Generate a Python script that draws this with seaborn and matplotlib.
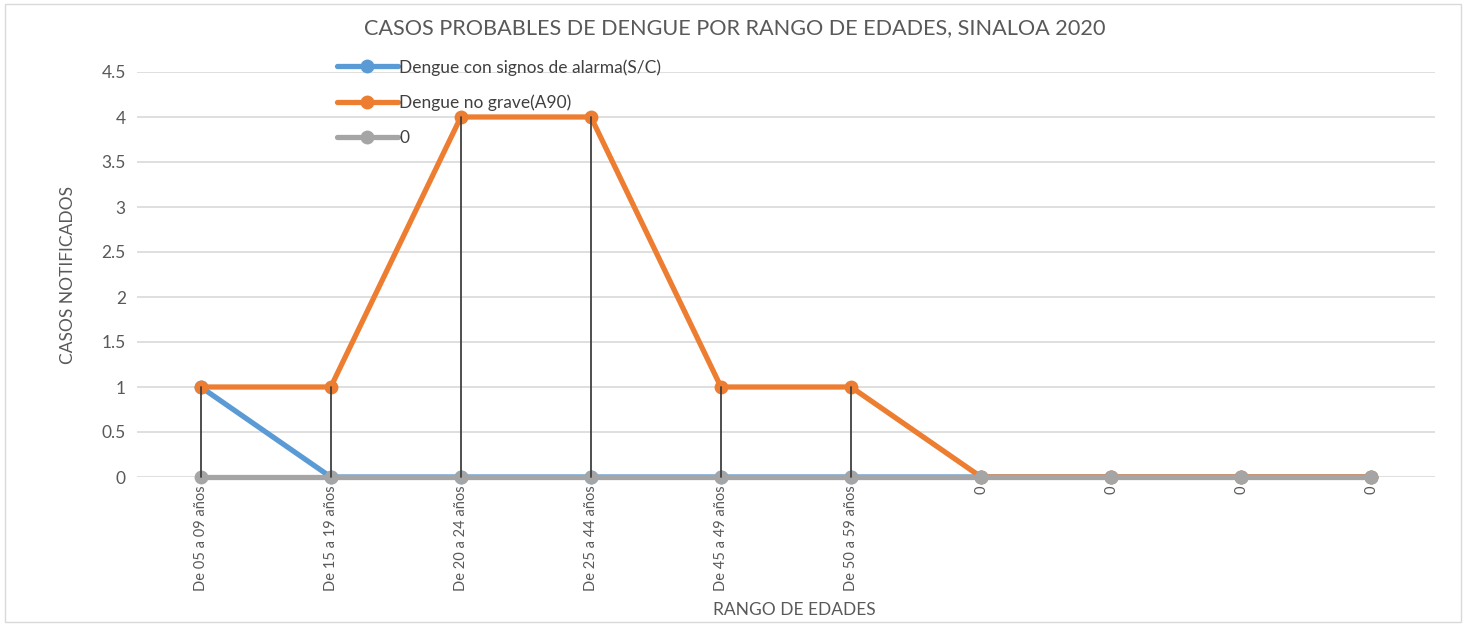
import matplotlib
matplotlib.use("Agg")
import matplotlib.pyplot as plt
import seaborn as sns
import pandas as pd
import numpy as np

categories = ["De 05 a 09 años", "De 15 a 19 años", "De 20 a 24 años", "De 25 a 44 años",
              "De 45 a 49 años", "De 50 a 59 años", "0", "0", "0", "0"]
series_names = ["Dengue con signos de alarma(S/C)", "Dengue no grave(A90)", "0"]
alarma = [1, 0, 0, 0, 0, 0, 0, 0, 0, 0]
no_grave = [1, 1, 4, 4, 1, 1, 0, 0, 0, 0]
cero = [0, 0, 0, 0, 0, 0, 0, 0, 0, 0]
colors = ["#5B9BD5", "#ED7D31", "#A5A5A5"]

sns.set_style("white")
plt.rcParams['font.family'] = ['Lato', 'DejaVu Sans']

pos = np.arange(len(categories))
rows = []
for name, vals in zip(series_names, [alarma, no_grave, cero]):
    for p, v in zip(pos, vals):
        rows.append({"pos": p, "value": v, "serie": name})
df = pd.DataFrame(rows)

fig = plt.figure(figsize=(14.68, 6.26), dpi=100)
ax = fig.add_axes([137/1468, 1-477/626, (1435-137)/1468, (477-72)/626])

for i, (name, col) in enumerate(zip(series_names, colors)):
    sub = df[df["serie"] == name]
    sns.lineplot(data=sub, x="pos", y="value", ax=ax, color=col, linewidth=3.8,
                 marker="o", markersize=10, markeredgewidth=0, label=name,
                 zorder=3 + i, clip_on=False)

# drop lines
maxv = np.max(np.vstack([alarma, no_grave, cero]), axis=0)
for p, m in zip(pos, maxv):
    if m > 0:
        ax.plot([p, p], [0, m], color="#404040", linewidth=1.3, zorder=10, clip_on=False)

ax.set_xlim(-0.49, 9.49)
ax.set_ylim(0, 4.5)
ax.set_yticks(np.arange(0, 4.51, 0.5))
ax.set_yticklabels([f"{v:g}" for v in np.arange(0, 4.51, 0.5)], fontsize=12.5, color="#595959")
ax.set_xticks(pos)
ax.set_xticklabels(categories, rotation=90, fontsize=10.5, color="#595959", va="top", ha="center")
ax.tick_params(axis="both", length=0, pad=8)
ax.tick_params(axis="x", pad=6)
ax.grid(axis="y", color="#D9D9D9", linewidth=1.2, zorder=0)
ax.set_axisbelow(True)
for s in ax.spines.values():
    s.set_visible(False)
ax.set_xlabel("")
ax.set_ylabel("")

fig.text(735/1468, 1-28/626, "CASOS PROBABLES DE DENGUE POR RANGO DE EDADES, SINALOA 2020",
         ha="center", va="center", fontsize=15.6, color="#595959")
fig.text(68/1468, 1-275/626, "CASOS NOTIFICADOS", rotation=90, ha="center", va="center",
         fontsize=12.5, color="#595959")
fig.text(794/1468, 1-610/626, "RANGO DE EDADES", ha="center", va="center",
         fontsize=12.5, color="#595959")

leg = ax.legend(loc="upper left", bbox_to_anchor=(330/1468, 1-52/626), bbox_transform=fig.transFigure,
                frameon=False, fontsize=12.5, handlelength=3.5, handletextpad=0.1,
                labelspacing=1.1, borderaxespad=0)
for t in leg.get_texts():
    t.set_color("#404040")

# figure border
fig.patches.append(plt.Rectangle((5/1468, 4/626), 1456/1468, 618/626, transform=fig.transFigure,
                                 fill=False, edgecolor="#D9D9D9", linewidth=1))

fig.savefig("out.png", dpi=100)
